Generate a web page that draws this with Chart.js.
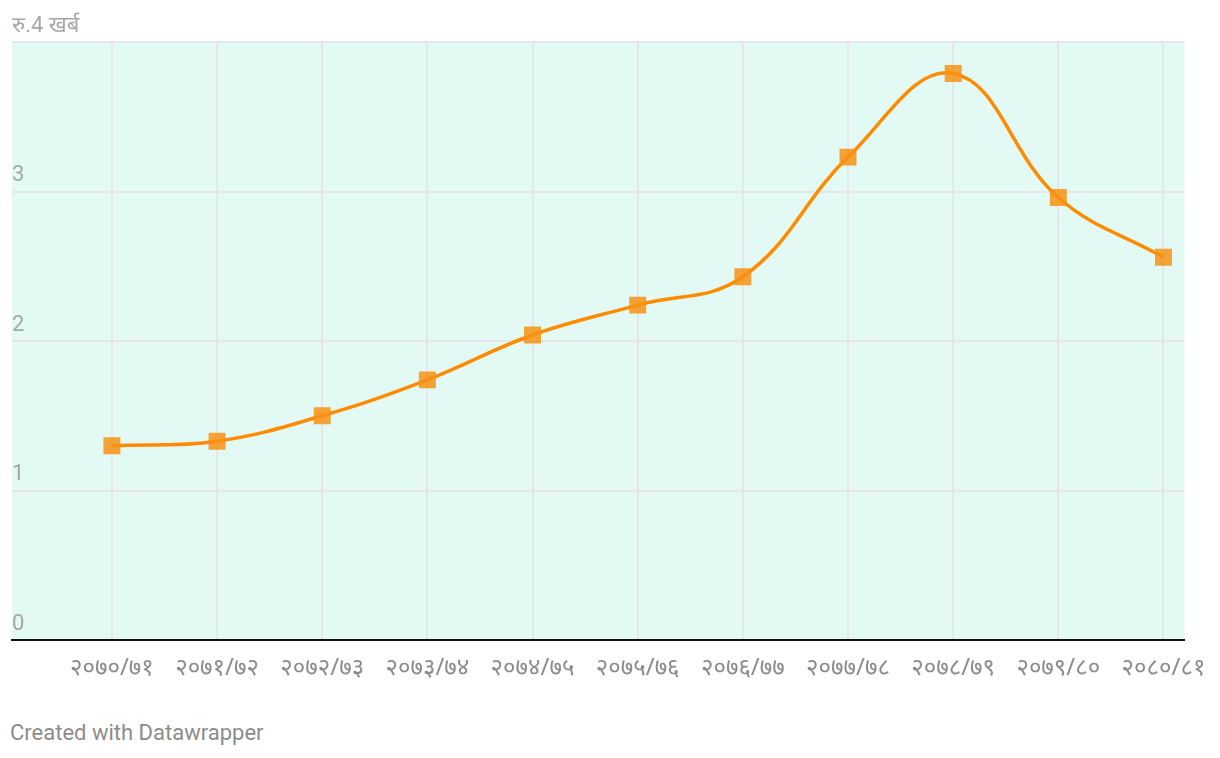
<!DOCTYPE html>
<html><head><meta charset="utf-8">
<script src="https://cdn.jsdelivr.net/npm/chart.js@4.4.0/dist/chart.umd.min.js"></script>
<style>
html,body{margin:0;padding:0;background:#fff;}
#wrap{position:relative;width:1220px;height:758px;}
canvas{position:absolute;left:0;top:0;}
#foot{position:absolute;left:10px;top:720px;font-family:Roboto,"Noto Sans",sans-serif;font-size:22px;color:#8c8c8c;}
</style></head>
<body>
<div id="wrap"><canvas id="c" width="1220" height="700"></canvas><div id="foot">Created with Datawrapper</div></div>
<script>
const categories = ['२०७०/७१','२०७१/७२','२०७२/७३','२०७३/७४','२०७४/७५','२०७५/७६','२०७६/७७','२०७७/७८','२०७८/७९','२०७९/८०','२०८०/८१'];
const values = [1.30, 1.33, 1.50, 1.74, 2.04, 2.24, 2.43, 3.23, 3.79, 2.96, 2.56];
const yTicks = [0, 1, 2, 3, 4];
const yTopLabel = 'रु.4 खर्ब';

const bgPlugin = {
  id: 'bg',
  beforeDraw(chart) {
    const {ctx, chartArea: a} = chart;
    ctx.save();
    ctx.fillStyle = '#e3faf4';
    ctx.fillRect(a.left, a.top, a.right - a.left, a.bottom - a.top);
    ctx.restore();
  }
};

new Chart(document.getElementById('c'), {
  type: 'line',
  data: {
    datasets: [{
      data: values.map((v, i) => ({x: i, y: v})),
      borderColor: '#ff8c00',
      borderWidth: 3.5,
      tension: 0.4,
      pointStyle: 'rect',
      pointRadius: 12,
      pointHoverRadius: 12,
      pointBackgroundColor: 'rgba(247,145,20,0.85)',
      pointBorderWidth: 0,
      fill: false
    }]
  },
  options: {
    responsive: false,
    animation: false,
    layout: {padding: {left: 8, right: 35, top: 42, bottom: 0}},
    plugins: {legend: {display: false}, tooltip: {enabled: false}},
    scales: {
      x: {
        type: 'linear',
        min: -0.95,
        max: 10.2,
        afterBuildTicks(scale) { scale.ticks = categories.map((c, i) => ({value: i})); },
        afterFit(scale) { scale.height = 60; },
        grid: {color: '#e6e6e6', lineWidth: 2, drawTicks: false},
        border: {display: true, color: '#111', width: 2},
        ticks: {
          autoSkip: false, maxRotation: 0, padding: 14,
          color: '#8c8c8c',
          font: {family: '"Noto Sans", Roboto, sans-serif', size: 24},
          callback: (v) => categories[v]
        }
      },
      y: {
        type: 'linear',
        min: 0, max: 4,
        afterBuildTicks(scale) { scale.ticks = yTicks.map(v => ({value: v})); },
        grid: {color: '#e6e6e6', lineWidth: 2, drawTicks: false},
        border: {display: false},
        ticks: {
          mirror: true, padding: 0, labelOffset: -16,
          color: '#a6a6a6',
          font: {family: 'Roboto, "Noto Sans", sans-serif', size: 22},
          callback: (v) => v === 4 ? yTopLabel : String(v)
        }
      }
    }
  },
  plugins: [bgPlugin]
});
</script>
</body></html>
